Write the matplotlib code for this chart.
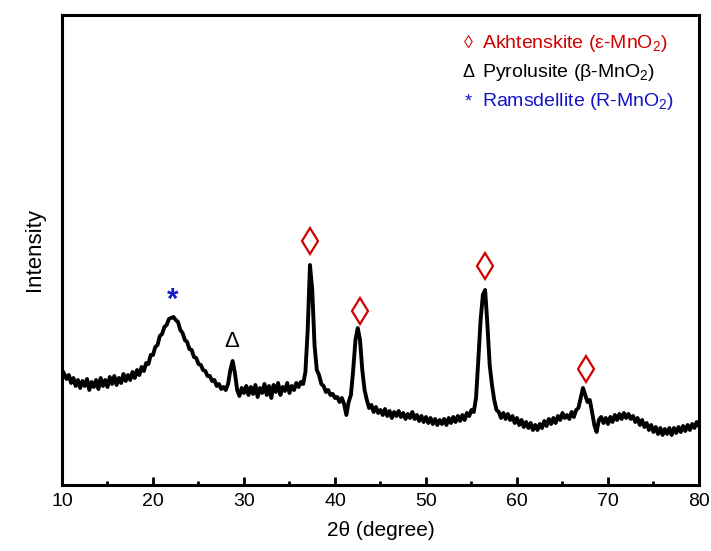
"""XRD pattern of MnO2 sample with phase markers."""

import matplotlib

matplotlib.use("Agg")
import matplotlib.pyplot as plt
import numpy as np
from matplotlib.ticker import MultipleLocator

plt.rcParams["font.family"] = ["Liberation Sans", "DejaVu Sans"]
plt.rcParams["mathtext.fontset"] = "custom"
plt.rcParams["mathtext.rm"] = "Liberation Sans"
plt.rcParams["mathtext.it"] = "Liberation Sans:italic"

# 2-theta sampled every 0.25 degree from 10 to 80
two_theta = np.arange(10.0, 80.001, 0.25)

# intensity (arbitrary units), 4 readings per degree
intensity = [
    130, 126, 121, 125, 117, 122, 114, 120, 112, 119, 114, 121,
    110, 118, 113, 120, 111, 122, 114, 120, 113, 123, 116, 124,
    115, 122, 117, 126, 119, 125, 120, 128, 122, 130, 125, 133,
    129, 137, 136, 145, 145, 153, 155, 164, 166, 173, 175, 181,
    182, 183, 180, 178, 170, 167, 160, 158, 151, 150, 143, 142,
    136, 135, 130, 129, 124, 124, 119, 120, 114, 116, 111, 113,
    110, 116, 130, 139, 127, 110, 104, 112, 107, 114, 105, 113,
    106, 115, 103, 112, 107, 116, 105, 114, 102, 115, 108, 117,
    105, 113, 109, 117, 107, 114, 110, 117, 113, 118, 116, 128,
    170, 235, 210, 155, 130, 125, 116, 114, 108, 110, 105, 106,
    102, 103, 98, 102, 96, 85, 98, 105, 130, 160, 172, 160,
    130, 110, 100, 92, 95, 88, 93, 87, 90, 85, 91, 84,
    89, 82, 88, 84, 89, 83, 87, 81, 86, 82, 88, 81,
    85, 79, 84, 78, 83, 77, 82, 76, 81, 75, 80, 76,
    81, 75, 82, 77, 83, 78, 84, 79, 85, 80, 87, 84,
    90, 88, 102, 140, 180, 205, 210, 175, 135, 115, 100, 90,
    88, 82, 87, 81, 86, 80, 84, 77, 82, 75, 80, 73,
    78, 72, 77, 70, 75, 70, 76, 72, 79, 74, 81, 76,
    82, 77, 84, 80, 87, 82, 85, 81, 88, 83, 90, 92,
    102, 112, 105, 98, 100, 88, 75, 68, 80, 83, 77, 82,
    76, 83, 78, 85, 80, 86, 81, 87, 82, 86, 81, 84,
    78, 82, 75, 80, 73, 77, 70, 75, 68, 73, 66, 72,
    65, 71, 66, 72, 65, 72, 67, 73, 68, 74, 69, 75,
    70, 76, 72, 78, 74,
]

# phase markers: (2theta, marker height)
akhtenskite_pos = [37.3, 42.75, 56.5, 67.6]
akhtenskite_height = [259, 189, 234, 131]
pyrolusite_pos = [28.7]
pyrolusite_height = [158]
ramsdellite_pos = [22.1]
ramsdellite_height = [200]

legend_symbols = ["\u25ca", "\u0394", "*"]
legend_labels = [
    "Akhtenskite (\u03b5-MnO$_2$)",
    "Pyrolusite (\u03b2-MnO$_2$)",
    "Ramsdellite (R-MnO$_2$)",
]
legend_colors = ["#d10000", "black", "#1414c8"]

figure = plt.figure(figsize=(7.11, 5.51), dpi=100)
axis = figure.add_axes([0.0872, 0.1198, 0.8959, 0.853])

axis.plot(two_theta, intensity, color="black", linewidth=2.8)

axis.plot(
    akhtenskite_pos,
    akhtenskite_height,
    linestyle="none",
    marker="d",
    markersize=13,
    markerfacecolor="none",
    markeredgecolor="#d10000",
    markeredgewidth=1.6,
)
for pos, height in zip(pyrolusite_pos, pyrolusite_height):
    axis.text(pos, height, "\u0394", ha="center", va="center",
              fontsize=16, color="black")
for pos, height in zip(ramsdellite_pos, ramsdellite_height):
    axis.text(pos, height, "*", ha="center", va="center",
              fontsize=21, fontweight="bold", color="#1414c8")

for index, (symbol, label, color) in enumerate(
    zip(legend_symbols, legend_labels, legend_colors)
):
    y_frac = 0.940 - index * 0.0625
    axis.text(0.638, y_frac, symbol, transform=axis.transAxes,
              ha="center", va="center", fontsize=13, color=color)
    axis.text(0.66, y_frac, label, transform=axis.transAxes,
              ha="left", va="center", fontsize=14, color=color)

axis.set_xlim(10, 80)
axis.set_ylim(15, 485)
axis.set_yticks([])
axis.xaxis.set_major_locator(MultipleLocator(10))
axis.xaxis.set_minor_locator(MultipleLocator(5))
axis.tick_params(axis="x", which="major", direction="in", length=6,
                 width=2, labelsize=14, pad=6)
axis.tick_params(axis="x", which="minor", direction="in", length=3, width=2)
for spine in axis.spines.values():
    spine.set_linewidth(2.2)

axis.set_xlabel("2\u03b8 (degree)", fontsize=15, labelpad=8)
axis.set_ylabel("Intensity", fontsize=16, labelpad=12)

figure.savefig("out.png", dpi=100)
plt.close(figure)
